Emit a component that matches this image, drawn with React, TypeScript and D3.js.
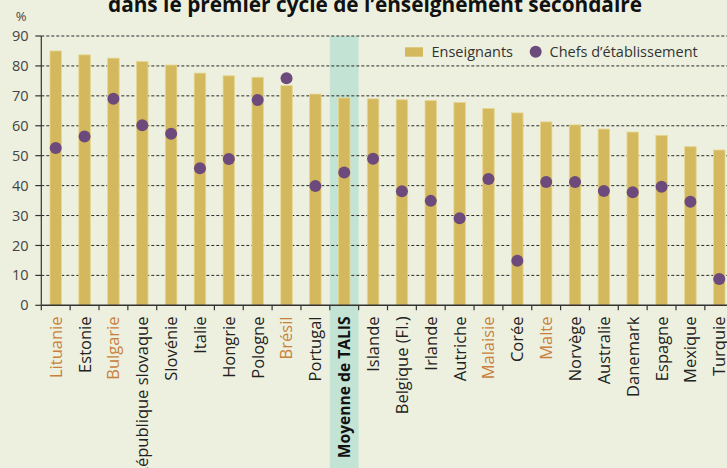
import React, { useRef, useEffect } from 'react';
import * as d3 from 'd3';

const countries = [
  'Lituanie', 'Estonie', 'Bulgarie', 'République slovaque', 'Slovénie', 'Italie',
  'Hongrie', 'Pologne', 'Brésil', 'Portugal', 'Moyenne de TALIS', 'Islande',
  'Belgique (Fl.)', 'Irlande', 'Autriche', 'Malaisie', 'Corée', 'Malte',
  'Norvège', 'Australie', 'Danemark', 'Espagne', 'Mexique', 'Turquie',
];
const teachers = [
  85, 83.7, 82.6, 81.5, 80.3, 77.6, 76.7, 76.2, 73.4, 70.6, 69.3, 69.0,
  68.7, 68.4, 67.8, 65.8, 64.3, 61.3, 60.3, 58.9, 57.9, 56.8, 53.0, 51.9,
];
const principals = [
  52.6, 56.4, 69.0, 60.2, 57.3, 45.8, 48.9, 68.6, 75.9, 39.9, 44.4, 49.0,
  38.1, 34.9, 29.1, 42.2, 14.9, 41.2, 41.2, 38.2, 37.8, 39.6, 34.6, 8.8,
];
const partners = ['Lituanie', 'Bulgarie', 'Brésil', 'Malaisie', 'Malte'];
const average = 'Moyenne de TALIS';
const yTicks = [0, 10, 20, 30, 40, 50, 60, 70, 80, 90];

const FONT = '"Open Sans", "Noto Sans", sans-serif';

const App = () => {
  const svgRef = useRef(null);

  useEffect(() => {
    const svg = d3.select(svgRef.current);
    svg.selectAll('*').remove();

    const width = 727;
    const height = 468;
    const left = 41.3;
    const step = 28.85;
    const bottom = 305.3;
    const top = 36;

    const x = d3
      .scaleBand()
      .domain(countries)
      .range([left, left + step * countries.length])
      .padding(0);
    const y = d3.scaleLinear().domain([0, 90]).range([bottom, top]);

    svg.append('rect').attr('width', width).attr('height', height).attr('fill', '#EDF0DE');

    // highlight band behind the average
    svg
      .append('rect')
      .attr('x', x(average))
      .attr('y', top)
      .attr('width', x.bandwidth())
      .attr('height', height - top)
      .attr('fill', '#C3E3D5');

    // title (cut at the top, as in the source)
    svg
      .append('text')
      .attr('x', 375)
      .attr('y', 12)
      .attr('text-anchor', 'middle')
      .attr('font-family', FONT)
      .attr('font-weight', 'bold')
      .attr('font-size', 20.8)
      .attr('fill', '#111')
      .text('dans le premier cycle de l’enseignement secondaire');

    // grid
    svg
      .append('g')
      .selectAll('line')
      .data(yTicks.slice(1))
      .enter()
      .append('line')
      .attr('x1', left)
      .attr('x2', width)
      .attr('y1', d => y(d))
      .attr('y2', d => y(d))
      .attr('stroke', '#2a2a2a')
      .attr('stroke-width', 1)
      .attr('stroke-dasharray', '3,2');

    // bars
    const barW = 11.5;
    svg
      .append('g')
      .selectAll('rect')
      .data(countries)
      .enter()
      .append('rect')
      .attr('x', d => x(d) + x.bandwidth() / 2 - barW / 2)
      .attr('y', (d, i) => y(teachers[i]))
      .attr('width', barW)
      .attr('height', (d, i) => bottom - y(teachers[i]))
      .attr('fill', '#D4B85E')
      .attr('stroke', '#E6D690')
      .attr('stroke-width', 0.8);

    // dots
    svg
      .append('g')
      .selectAll('circle')
      .data(countries)
      .enter()
      .append('circle')
      .attr('cx', d => x(d) + x.bandwidth() / 2)
      .attr('cy', (d, i) => y(principals[i]))
      .attr('r', 6)
      .attr('fill', '#6D4A7C');

    // y axis
    const yAxis = svg.append('g');
    yAxis
      .append('line')
      .attr('x1', left)
      .attr('x2', left)
      .attr('y1', top)
      .attr('y2', bottom)
      .attr('stroke', '#333')
      .attr('stroke-width', 1.2);
    yAxis
      .selectAll('.tick')
      .data(yTicks)
      .enter()
      .append('line')
      .attr('x1', left - 6)
      .attr('x2', left)
      .attr('y1', d => y(d))
      .attr('y2', d => y(d))
      .attr('stroke', '#333')
      .attr('stroke-width', 1.2);
    yAxis
      .selectAll('text')
      .data(yTicks)
      .enter()
      .append('text')
      .attr('x', 28.5)
      .attr('y', d => y(d))
      .attr('dy', '0.35em')
      .attr('text-anchor', 'end')
      .attr('font-family', FONT)
      .attr('font-size', 14.5)
      .attr('fill', '#444')
      .text(d => d);
    svg
      .append('text')
      .attr('x', 21)
      .attr('y', 21)
      .attr('text-anchor', 'middle')
      .attr('font-family', FONT)
      .attr('font-size', 13)
      .attr('fill', '#444')
      .text('%');

    // x axis
    const xAxis = svg.append('g');
    xAxis
      .append('line')
      .attr('x1', left)
      .attr('x2', width)
      .attr('y1', bottom)
      .attr('y2', bottom)
      .attr('stroke', '#333')
      .attr('stroke-width', 1.5);
    xAxis
      .selectAll('.tick')
      .data(countries.concat(['end']))
      .enter()
      .append('line')
      .attr('x1', (d, i) => left + step * i)
      .attr('x2', (d, i) => left + step * i)
      .attr('y1', bottom)
      .attr('y2', bottom + 5)
      .attr('stroke', '#333')
      .attr('stroke-width', 1.2);
    xAxis
      .selectAll('text')
      .data(countries)
      .enter()
      .append('text')
      .attr('transform', d => `translate(${x(d) + x.bandwidth() / 2}, 316.5) rotate(-90)`)
      .attr('dy', '0.36em')
      .attr('text-anchor', 'end')
      .attr('font-family', FONT)
      .attr('font-size', d => (d === average ? 15.6 : 16.5))
      .attr('font-weight', d => (d === average ? 'bold' : 'normal'))
      .attr('fill', d => (partners.includes(d) ? '#C8803C' : d === average ? '#111' : '#222'))
      .text(d => d);

    // legend
    const legend = svg.append('g').attr('font-family', FONT).attr('font-size', 14.5).attr('fill', '#333');
    legend
      .append('rect')
      .attr('x', 405)
      .attr('y', 47.3)
      .attr('width', 18)
      .attr('height', 9.4)
      .attr('fill', '#D4B85E');
    legend.append('text').attr('x', 431.5).attr('y', 56.8).text('Enseignants');
    legend.append('circle').attr('cx', 535.7).attr('cy', 51.7).attr('r', 6).attr('fill', '#6D4A7C');
    legend.append('text').attr('x', 549.5).attr('y', 56.8).text('Chefs d’établissement');
  }, []);

  return (
    <svg
      ref={svgRef}
      width={727}
      height={468}
      style={{ position: 'absolute', left: 0, top: 0, display: 'block' }}
    />
  );
};

export default App;
